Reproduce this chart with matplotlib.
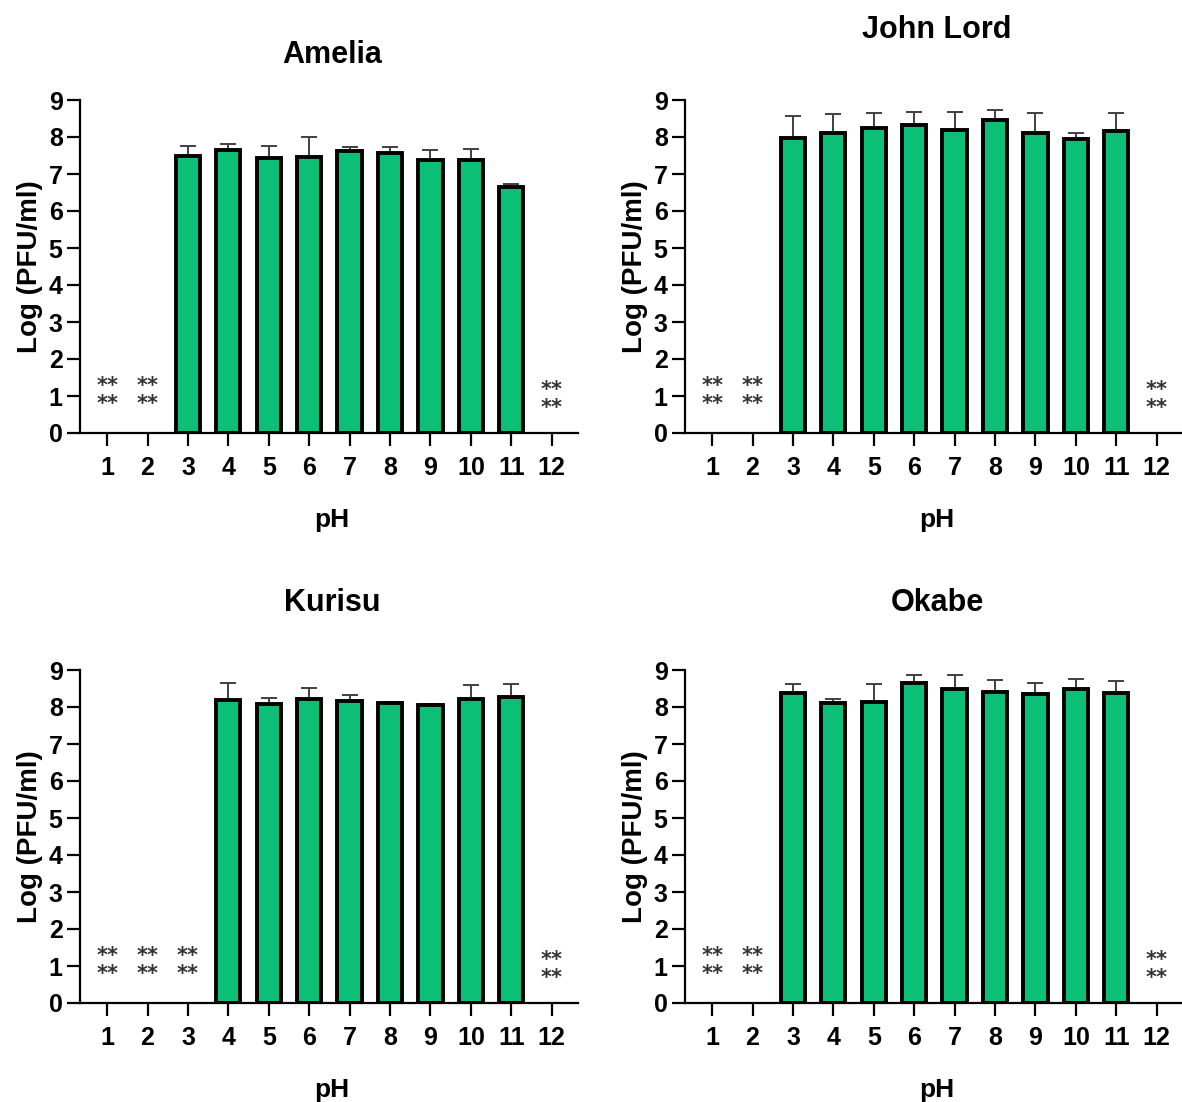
import numpy as np
import matplotlib
matplotlib.use("Agg")
import matplotlib.pyplot as plt

plt.rcParams['font.family'] = ['Liberation Sans', 'DejaVu Sans']
plt.rcParams['font.weight'] = 'bold'

# pH values on the x axis
ph = [1, 2, 3, 4, 5, 6, 7, 8, 9, 10, 11, 12]
nan = np.nan

# mean Log(PFU/ml) per pH, nan = no plaques (marked with **)
amelia_mean = [nan, nan, 7.48, 7.64, 7.44, 7.46, 7.62, 7.56, 7.39, 7.39, 6.65, nan]
amelia_top = [nan, nan, 7.75, 7.82, 7.77, 8.01, 7.73, 7.73, 7.64, 7.68, 6.74, nan]

john_mean = [nan, nan, 7.96, 8.12, 8.23, 8.32, 8.20, 8.46, 8.10, 7.94, 8.17, nan]
john_top = [nan, nan, 8.57, 8.63, 8.66, 8.67, 8.67, 8.73, 8.65, 8.10, 8.65, nan]

kurisu_mean = [nan, nan, nan, 8.18, 8.09, 8.22, 8.16, 8.12, 8.06, 8.22, 8.27, nan]
kurisu_top = [nan, nan, nan, 8.66, 8.23, 8.51, 8.33, 8.13, 8.09, 8.59, 8.61, nan]

okabe_mean = [nan, nan, 8.37, 8.10, 8.14, 8.64, 8.48, 8.41, 8.34, 8.48, 8.39, nan]
okabe_top = [nan, nan, 8.62, 8.21, 8.62, 8.86, 8.86, 8.72, 8.64, 8.75, 8.70, nan]

W, H = 1182, 1102
fig = plt.figure(figsize=(W / 100, H / 100), dpi=100)

bar_color = '#0BBF77'

# (name, mean, top, axes left px, axes top px, title y px)
panels = [
    ("Amelia", amelia_mean, amelia_top, 80, 100, 55),
    ("John Lord", john_mean, john_top, 685, 100, 30),
    ("Kurisu", kurisu_mean, kurisu_top, 80, 670, 603),
    ("Okabe", okabe_mean, okabe_top, 685, 670, 603),
]

for name, mean, top, left, top_px, title_y in panels:
    ax = fig.add_axes([left / W, (H - top_px - 333) / H, 498 / W, 333 / H])
    mean = np.array(mean)
    top = np.array(top)
    x = np.array(ph)
    ok = ~np.isnan(mean)

    ax.bar(x[ok], mean[ok], width=0.6, color=bar_color, edgecolor='black',
           linewidth=2.8, zorder=3)
    err = top[ok] - mean[ok]
    ax.errorbar(x[ok], mean[ok], yerr=[np.zeros_like(err), err], fmt='none',
                ecolor='#404040', elinewidth=1.4, capsize=6, capthick=1.4, zorder=2)

    # ** where no value could be measured
    for xi in x[~ok]:
        base = 0.99 if xi == 12 else 1.11
        for row in (0, 1):
            ax.text(xi, base - row * 0.48, "**", ha='center', va='baseline',
                    fontsize=15, fontweight='bold', color='#333333',
                    family='DejaVu Sans')

    ax.set_xlim(0.33, 12.65)
    ax.set_ylim(0, 9)
    ax.set_xticks(ph)
    ax.set_yticks(range(0, 10))
    ax.spines['top'].set_visible(False)
    ax.spines['right'].set_visible(False)
    ax.spines['left'].set_linewidth(1.6)
    ax.spines['bottom'].set_linewidth(1.6)
    ax.tick_params(axis='both', width=1.6, length=9.5, labelsize=18, pad=3)
    ax.tick_params(axis='x', pad=7)
    for lab in ax.get_xticklabels() + ax.get_yticklabels():
        lab.set_fontweight('bold')
    ax.set_ylabel("Log (PFU/ml)", fontsize=20, fontweight='bold', labelpad=4)

    cx = left + 252
    fig.text(cx / W, 1 - title_y / H, name, ha='center', va='center',
             fontsize=22, fontweight='bold')
    fig.text(cx / W, 1 - (top_px + 420) / H, "pH", ha='center', va='center',
             fontsize=19, fontweight='bold')

fig.savefig("out.png", dpi=100)
